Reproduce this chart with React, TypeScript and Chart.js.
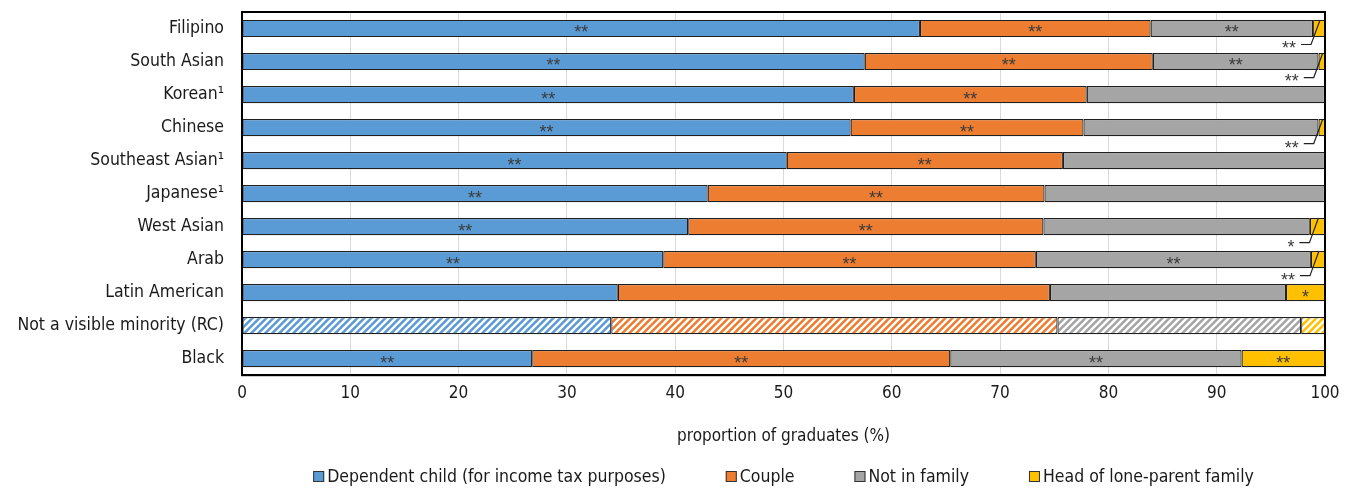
import React, { useEffect, useRef } from 'react';
import { Chart, registerables } from 'chart.js';

Chart.register(...registerables);

const FONT = '"Liberation Sans Narrow", "Arial Narrow", "DejaVu Sans Condensed", sans-serif';
const MARK_FONT = '"Liberation Sans", Arial, sans-serif';

// Groups, top to bottom
const categories = [
  'Filipino',
  'South Asian',
  'Korean¹',
  'Chinese',
  'Southeast Asian¹',
  'Japanese¹',
  'West Asian',
  'Arab',
  'Latin American',
  'Not a visible minority (RC)',
  'Black',
];
const referenceCategory = 'Not a visible minority (RC)';

// Family status shares (%)
const dependentChild = [62.6, 57.5, 56.5, 56.2, 50.3, 43.0, 41.2, 38.9, 34.7, 34.1, 26.8];
const couple = [21.3, 26.6, 21.5, 21.5, 25.5, 31.1, 32.8, 34.4, 39.9, 41.2, 38.6];
const notInFamily = [15.0, 15.3, 22.0, 21.7, 24.2, 25.9, 24.6, 25.4, 21.8, 22.5, 26.9];
const loneParentHead = [1.1, 0.6, 0, 0.6, 0, 0, 1.4, 1.3, 3.6, 2.2, 7.7];

// Significance markers versus the reference category
const dependentChildSig = ['**', '**', '**', '**', '**', '**', '**', '**', '', '', '**'];
const coupleSig = ['**', '**', '**', '**', '**', '**', '**', '**', '', '', '**'];
const notInFamilySig = ['**', '**', '', '', '', '', '', '**', '', '', '**'];
const loneParentHeadSig = ['**', '**', '', '**', '', '', '*', '**', '*', '', '**'];

const seriesNames = [
  'Dependent child (for income tax purposes)',
  'Couple',
  'Not in family',
  'Head of lone-parent family',
];
const seriesColors = ['#5B9BD5', '#ED7D31', '#A5A5A5', '#FFC000'];
const seriesValues = [dependentChild, couple, notInFamily, loneParentHead];
const seriesSig = [dependentChildSig, coupleSig, notInFamilySig, loneParentHeadSig];

const axisTitle = 'proportion of graduates (%)';

function hatch(color: string): CanvasPattern | string {
  const s = 7;
  const tile = document.createElement('canvas');
  tile.width = s;
  tile.height = s;
  const g = tile.getContext('2d');
  if (!g) return color;
  g.fillStyle = color;
  g.fillRect(0, 0, s, s);
  g.strokeStyle = '#ffffff';
  g.lineWidth = 2.4;
  g.beginPath();
  g.moveTo(-1, s + 1);
  g.lineTo(s + 1, -1);
  g.moveTo(-1, 1);
  g.lineTo(1, -1);
  g.moveTo(s - 1, s + 1);
  g.lineTo(s + 1, s - 1);
  g.stroke();
  return g.createPattern(tile, 'repeat') || color;
}

// Plot frame, significance markers (inline or with a leader line) and legend row
const overlayPlugin = {
  id: 'overlay',
  afterDatasetsDraw(chart: any) {
    const ctx: CanvasRenderingContext2D = chart.ctx;
    const { left, right, top, bottom } = chart.chartArea;
    ctx.save();

    ctx.font = `18px ${MARK_FONT}`;
    ctx.fillStyle = '#3a3a3a';
    ctx.textBaseline = 'middle';
    chart.data.datasets.forEach((_ds: any, di: number) => {
      const meta = chart.getDatasetMeta(di);
      const marks = seriesSig[di];
      meta.data.forEach((bar: any, i: number) => {
        const mark = marks[i];
        if (!mark) return;
        const { x, base, y, height } = bar.getProps(['x', 'base', 'y', 'height'], true);
        const w = Math.abs(x - base);
        const cx = (x + base) / 2;
        if (w > 22) {
          ctx.textAlign = 'center';
          ctx.fillText(mark, cx, y + 5);
        } else {
          const sx = cx + 1;
          const sy = y - height / 2;
          const ex = cx - 8;
          const ey = y + 16;
          const hx = ex - 10;
          ctx.strokeStyle = '#222222';
          ctx.lineWidth = 1.2;
          ctx.beginPath();
          ctx.moveTo(sx, sy);
          ctx.lineTo(ex, ey);
          ctx.lineTo(hx, ey);
          ctx.stroke();
          ctx.textAlign = 'right';
          ctx.fillText(mark, hx - 5, ey + 5);
        }
      });
    });

    ctx.strokeStyle = '#000000';
    ctx.lineWidth = 2;
    ctx.strokeRect(left, top, right - left, bottom - top);
    ctx.restore();
  },
  afterDraw(chart: any) {
    const ctx: CanvasRenderingContext2D = chart.ctx;
    const { left, right } = chart.chartArea;
    ctx.save();
    ctx.font = `17.5px ${FONT}`;
    ctx.textBaseline = 'middle';
    ctx.textAlign = 'left';
    const box = 11;
    const textGap = 3;
    const itemGap = 60;
    const widths = seriesNames.map((n) => box + textGap + ctx.measureText(n).width);
    const total = widths.reduce((a, b) => a + b, 0) + itemGap * (widths.length - 1);
    let x = (left + right) / 2 - total / 2;
    const y = chart.height - 12;
    seriesNames.forEach((name, i) => {
      ctx.fillStyle = seriesColors[i];
      ctx.fillRect(x, y - 6, box, box);
      ctx.strokeStyle = '#333333';
      ctx.lineWidth = 1;
      ctx.strokeRect(x + 0.5, y - 5.5, box - 1, box - 1);
      ctx.fillStyle = '#1a1a1a';
      ctx.fillText(name, x + box + textGap, y);
      x += widths[i] + itemGap;
    });
    ctx.restore();
  },
};

export default function App() {
  const canvasRef = useRef<HTMLCanvasElement | null>(null);

  useEffect(() => {
    const canvas = canvasRef.current;
    if (!canvas) return;

    const datasets = seriesNames.map((name, si) => ({
      label: name,
      data: seriesValues[si],
      backgroundColor: categories.map((c) =>
        c === referenceCategory ? hatch(seriesColors[si]) : seriesColors[si]
      ),
      borderColor: '#1f1f1f',
      borderWidth: 1.2,
      borderSkipped: false,
      barPercentage: 0.52,
      categoryPercentage: 1,
    }));

    const chart = new Chart(canvas, {
      type: 'bar',
      data: { labels: categories, datasets: datasets as any },
      plugins: [overlayPlugin],
      options: {
        indexAxis: 'y',
        animation: false,
        responsive: false,
        devicePixelRatio: 1,
        layout: { padding: { top: 12, right: 26, bottom: 42, left: 0 } },
        plugins: {
          legend: { display: false },
          tooltip: { enabled: false },
        },
        scales: {
          x: {
            stacked: true,
            min: 0,
            max: 100,
            ticks: {
              stepSize: 10,
              padding: 8,
              color: '#1a1a1a',
              font: { family: FONT, size: 17 },
            },
            grid: { color: '#d9d9d9', lineWidth: 1, drawTicks: false },
            border: { color: '#000000', width: 2 },
            title: {
              display: true,
              text: axisTitle,
              color: '#1a1a1a',
              font: { family: FONT, size: 17 },
              padding: { top: 15, bottom: 0 },
            },
          },
          y: {
            stacked: true,
            afterFit: (scale: any) => {
              scale.width = 242;
              scale.paddingTop = 0;
              scale.paddingBottom = 0;
            },
            ticks: {
              padding: 18,
              color: '#1a1a1a',
              font: { family: FONT, size: 17.5 },
            },
            grid: { display: false, drawTicks: false },
            border: { color: '#000000', width: 2 },
          },
        },
      },
    });

    return () => chart.destroy();
  }, []);

  return (
    <div style={{ position: 'fixed', left: 0, top: 0, width: 1351, height: 489, background: '#ffffff' }}>
      <canvas ref={canvasRef} width={1351} height={489} style={{ display: 'block' }} />
    </div>
  );
}
